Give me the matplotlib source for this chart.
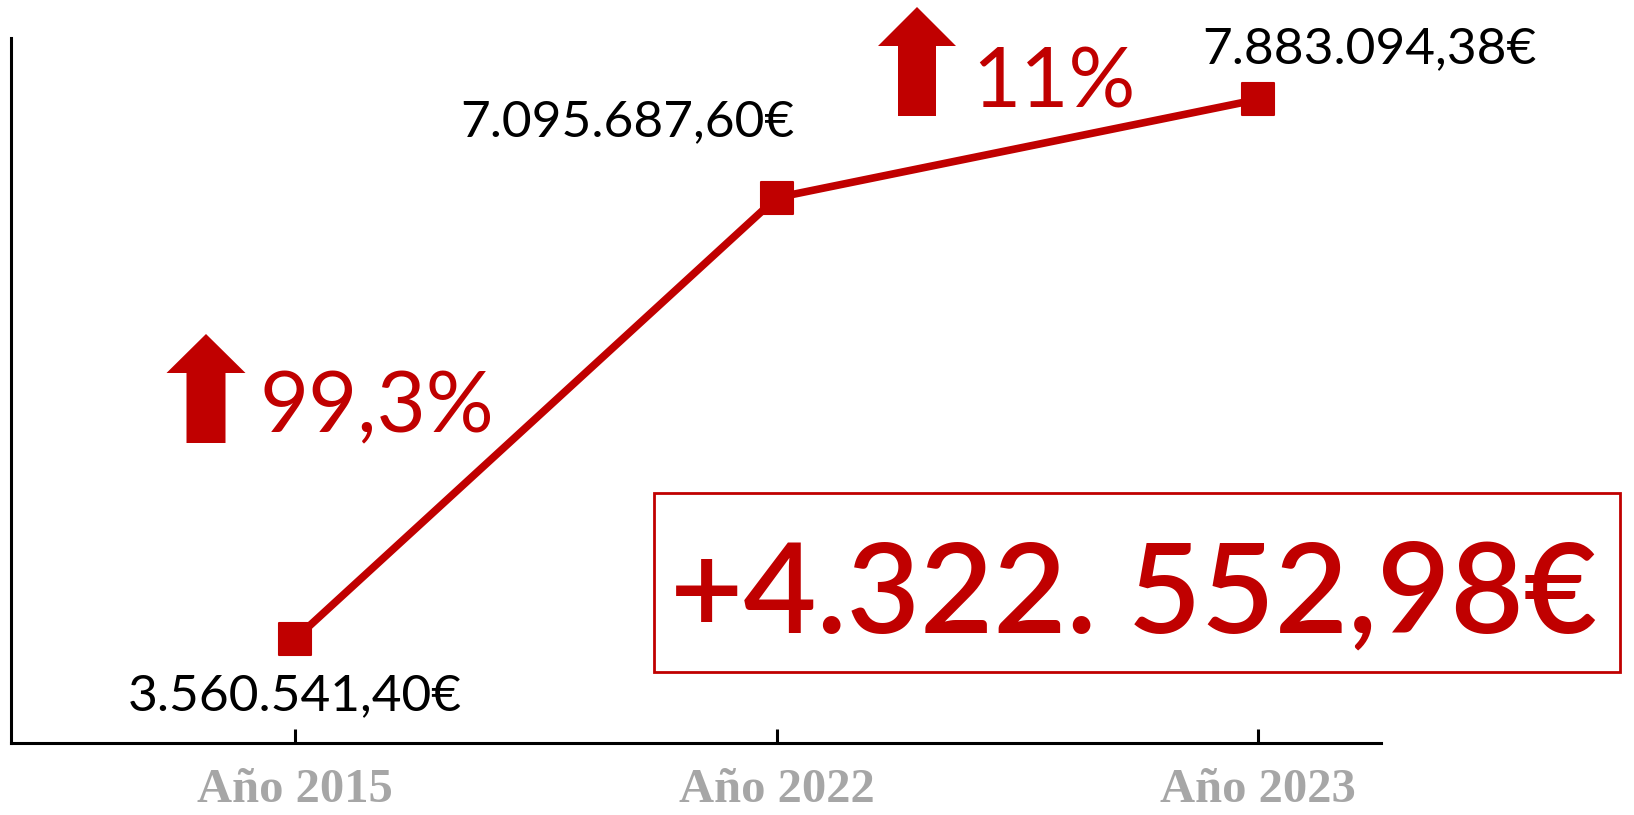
import matplotlib
matplotlib.use("Agg")
import matplotlib.pyplot as plt
from matplotlib.markers import MarkerStyle
from matplotlib.patches import Polygon, Rectangle

W, H = 1634, 815
RED = "#C00000"
GREY = "#A6A6A6"

# data
years = ["Año 2015", "Año 2022", "Año 2023"]
values = [3560541.40, 7095687.60, 7883094.38]
value_labels = ["3.560.541,40€", "7.095.687,60€", "7.883.094,38€"]
growth_labels = ["99,3%", "11%"]
total_label = "+4.322. 552,98€"


def px(x, y):
    # pixel position (from top-left) -> figure fraction
    return x / W, 1 - y / H


def up_arrow(fig, cx, top, head_base, bottom, head_w, shaft_w):
    pts = [(cx, top),
           (cx + head_w / 2, head_base),
           (cx + shaft_w / 2, head_base),
           (cx + shaft_w / 2, bottom),
           (cx - shaft_w / 2, bottom),
           (cx - shaft_w / 2, head_base),
           (cx - head_w / 2, head_base)]
    fig.patches.append(Polygon([px(*p) for p in pts], closed=True,
                               transform=fig.transFigure,
                               facecolor=RED, edgecolor="none"))


fig = plt.figure(figsize=(W / 100, H / 100), dpi=100)
l, b = px(11, 743)
r, t = px(1381, 38)
ax = fig.add_axes([l, b, r - l, t - b])

xs = range(len(years))
ax.plot(xs, values, color=RED, linewidth=5.5,
        marker=MarkerStyle("s", joinstyle="round"), markersize=23,
        markeredgewidth=1.5, markeredgecolor=RED, markerfacecolor=RED,
        solid_joinstyle="round")

ax.set_xlim(-0.59, 2.255)
ax.set_ylim(2.7275e6, 8.3747e6)

for s in ["top", "right"]:
    ax.spines[s].set_visible(False)
for s in ["left", "bottom"]:
    ax.spines[s].set_linewidth(2.2)
    ax.spines[s].set_color("black")
ax.set_yticks([])
ax.set_xticks(list(xs))
ax.set_xticklabels(years, fontfamily="Liberation Serif", fontweight="bold",
                   fontsize=35, color=GREY)
ax.tick_params(axis="x", direction="in", length=10, width=2.2, pad=18)

offsets = [(0, -71), (-149, 62), (111, 36)]
for x, v, lab, off in zip(xs, values, value_labels, offsets):
    ax.annotate(lab, (x, v), xytext=off, textcoords="offset pixels",
                ha="center", va="baseline", fontsize=37,
                fontfamily="Lato", color="black")

# growth arrows and percentages
up_arrow(fig, 206, 334, 373, 443, 79, 39)
up_arrow(fig, 917, 7, 46, 116, 78, 38)
fig.text(*px(260, 432), growth_labels[0], ha="left", va="baseline",
         fontsize=61, fontfamily="Lato", color=RED)
fig.text(*px(972, 107), growth_labels[1], ha="left", va="baseline",
         fontsize=60, fontfamily="Lato", color=RED)

# total increase box
bx0, by0 = px(654, 672)
bx1, by1 = px(1620, 493)
fig.patches.append(Rectangle((bx0, by0), bx1 - bx0, by1 - by0,
                             transform=fig.transFigure, facecolor="none",
                             edgecolor=RED, linewidth=2))
fig.text(*px(1134, 633), total_label, ha="center", va="baseline",
         fontsize=91, fontfamily="Lato", fontweight="semibold", color=RED)

fig.savefig("out.png", dpi=100)
